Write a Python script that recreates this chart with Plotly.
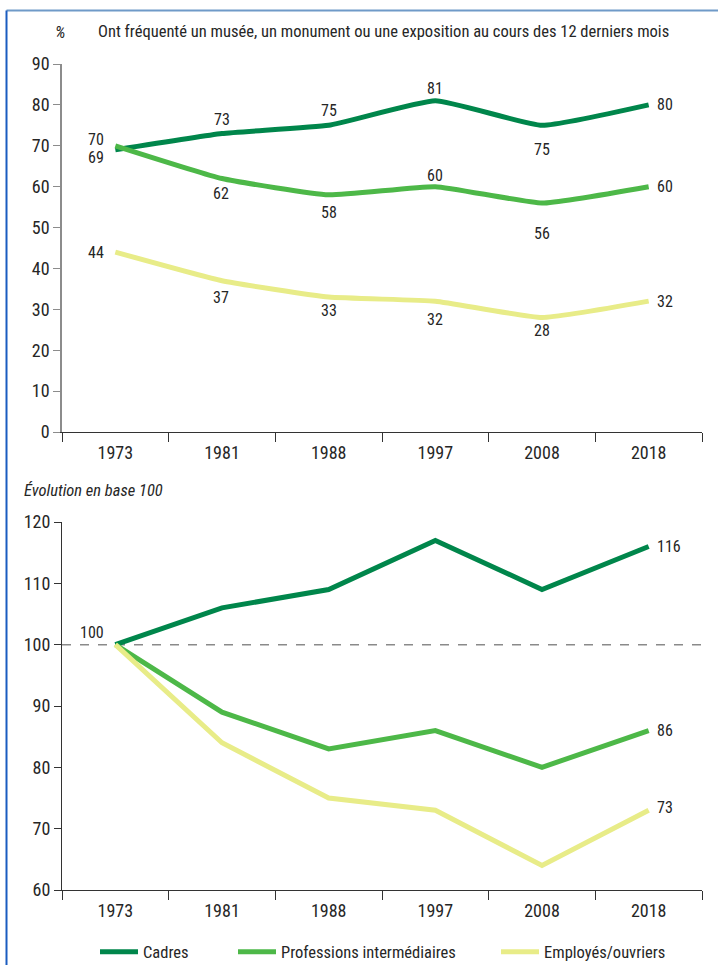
import plotly.graph_objects as go

# Survey years and shares (%) of people who visited a museum, monument or exhibition
years = ["1973", "1981", "1988", "1997", "2008", "2018"]
cadres = [69, 73, 75, 81, 75, 80]
professions = [70, 62, 58, 60, 56, 60]
employes = [44, 37, 33, 32, 28, 32]

# Same series rebased to 100 in 1973
cadres_idx = [100, 106, 109, 117, 109, 116]
professions_idx = [100, 89, 83, 86, 80, 86]
employes_idx = [100, 84, 75, 73, 64, 73]

names = ["Cadres", "Professions intermédiaires", "Employés/ouvriers"]
colors = ["#00864B", "#4DB848", "#E8EC88"]

FONT = ("Roboto Condensed, Noto Sans Condensed, Open Sans Condensed, "
        "Liberation Sans Narrow, Arial Narrow, Roboto, sans-serif")
TXT = "#262626"
W, H = 718, 965


def py(px):
    return 1 - px / H


def px_x(px):
    return px / W


fig = go.Figure()

top = [cadres, professions, employes]
bottom = [cadres_idx, professions_idx, employes_idx]
legends = ["legend", "legend2", "legend3"]

for i in range(3):
    fig.add_trace(go.Scatter(
        x=years, y=top[i], mode="lines", name=names[i],
        line=dict(color=colors[i], width=5, shape="spline", smoothing=0.4),
        xaxis="x", yaxis="y", legend=legends[i], showlegend=True,
        hoverinfo="skip"))
for i in range(3):
    fig.add_trace(go.Scatter(
        x=years, y=bottom[i], mode="lines", name=names[i],
        line=dict(color=colors[i], width=5),
        xaxis="x2", yaxis="y2", showlegend=False, hoverinfo="skip"))

# Value labels: (series, index, xshift, yshift, anchor)
top_labels = [
    (cadres, 0, -10, -8, "right"), (cadres, 1, 0, 14, "center"),
    (cadres, 2, 0, 15, "center"), (cadres, 3, 0, 12, "center"),
    (cadres, 4, 0, -24, "center"), (cadres, 5, 7, 0, "left"),
    (professions, 0, -10, 6, "right"), (professions, 1, -1, -15, "center"),
    (professions, 2, 0, -18, "center"), (professions, 3, 0, 11, "center"),
    (professions, 4, 0, -30, "center"), (professions, 5, 7, 0, "left"),
    (employes, 0, -10, 0, "right"), (employes, 1, -1, -17, "center"),
    (employes, 2, 0, -13, "center"), (employes, 3, 0, -18, "center"),
    (employes, 4, 0, -13, "center"), (employes, 5, 7, 0, "left"),
]
annotations = []
for series, k, dx, dy, anchor in top_labels:
    annotations.append(dict(
        x=k, y=series[k], xref="x", yref="y", text=str(series[k]),
        showarrow=False, xanchor=anchor, yanchor="middle", xshift=dx, yshift=dy,
        borderpad=0, font=dict(family=FONT, size=16, color=TXT)))

bottom_labels = [
    (cadres_idx, 0, -10, 12, "right"), (cadres_idx, 5, 7, 0, "left"),
    (professions_idx, 5, 7, 0, "left"), (employes_idx, 5, 7, 3, "left"),
]
for series, k, dx, dy, anchor in bottom_labels:
    annotations.append(dict(
        x=k, y=series[k], xref="x2", yref="y2", text=str(series[k]),
        showarrow=False, xanchor=anchor, yanchor="middle", xshift=dx, yshift=dy,
        borderpad=0, font=dict(family=FONT, size=16, color=TXT)))

annotations += [
    dict(x=px_x(60), y=py(32), xref="paper", yref="paper", text="<i>%</i>",
         showarrow=False, xanchor="center", yanchor="middle",
         font=dict(family=FONT, size=17, color=TXT)),
    dict(x=px_x(96), y=py(32), xref="paper", yref="paper",
         text="Ont fréquenté un musée, un monument ou une exposition au cours des 12 derniers mois",
         showarrow=False, xanchor="left", yanchor="middle",
         font=dict(family=FONT, size=16.5, color=TXT)),
    dict(x=px_x(22), y=py(490), xref="paper", yref="paper",
         text="<i>Évolution en base 100</i>",
         showarrow=False, xanchor="left", yanchor="middle",
         font=dict(family=FONT, size=16.5, color=TXT)),
]

shapes = [
    # reference level of the index
    dict(type="line", xref="x2 domain", yref="y2", x0=0, x1=1, y0=100, y1=100,
         line=dict(color="#8a8a8a", width=1.5, dash="dash"), layer="below"),
    # frame
    dict(type="line", xref="paper", yref="paper", x0=px_x(6.5), x1=1,
         y0=py(10.5), y1=py(10.5), line=dict(color="#6f9ac8", width=2)),
    dict(type="line", xref="paper", yref="paper", x0=px_x(6.5), x1=px_x(6.5),
         y0=py(10.5), y1=0, line=dict(color="#1a5cc0", width=2)),
]

xdom = [px_x(62), px_x(702)]
common_x = dict(type="category", range=[-0.5, 5.5], tickson="boundaries",
                ticks="outside", ticklen=9, tickwidth=1.2, tickcolor="#333",
                showline=True, linecolor="#333", linewidth=1.2, showgrid=False,
                zeroline=False, fixedrange=True, tickangle=0, automargin=False,
                ticklabelstandoff=4,
                tickfont=dict(family=FONT, size=18, color=TXT), domain=xdom)

fig.update_layout(
    width=W, height=H, margin=dict(l=0, r=0, t=0, b=0, autoexpand=False),
    paper_bgcolor="white", plot_bgcolor="white",
    font=dict(family=FONT, color=TXT),
    xaxis=dict(common_x, anchor="y"),
    xaxis2=dict(common_x, anchor="y2"),
    yaxis=dict(domain=[py(432), py(64)], range=[0, 90], tickvals=list(range(0, 91, 10)),
               ticks="outside", ticklen=7, tickwidth=1.2, tickcolor="#8c8c8c",
               showline=True, linecolor="#8c8c8c", linewidth=1.5, showgrid=False,
               zeroline=False, anchor="x", fixedrange=True, automargin=False,
               tickfont=dict(family=FONT, size=18, color=TXT)),
    yaxis2=dict(domain=[py(890), py(522)], range=[60, 120], tickvals=list(range(60, 121, 10)),
                ticks="outside", ticklen=7, tickwidth=1.2, tickcolor="#333",
                showline=True, linecolor="#333", linewidth=1.2, showgrid=False,
                zeroline=False, anchor="x2", fixedrange=True, automargin=False,
                tickfont=dict(family=FONT, size=18, color=TXT)),
    annotations=annotations,
    shapes=shapes,
    showlegend=True,
)

legend_x = [95, 233, 496]
for key, lx in zip(legends, legend_x):
    fig.update_layout({key: dict(x=px_x(lx), y=py(952), xanchor="left", yanchor="middle",
                                 orientation="h", bgcolor="rgba(0,0,0,0)", itemwidth=38,
                                 font=dict(family=FONT, size=16.5, color=TXT))})

fig.write_html("out.html")
